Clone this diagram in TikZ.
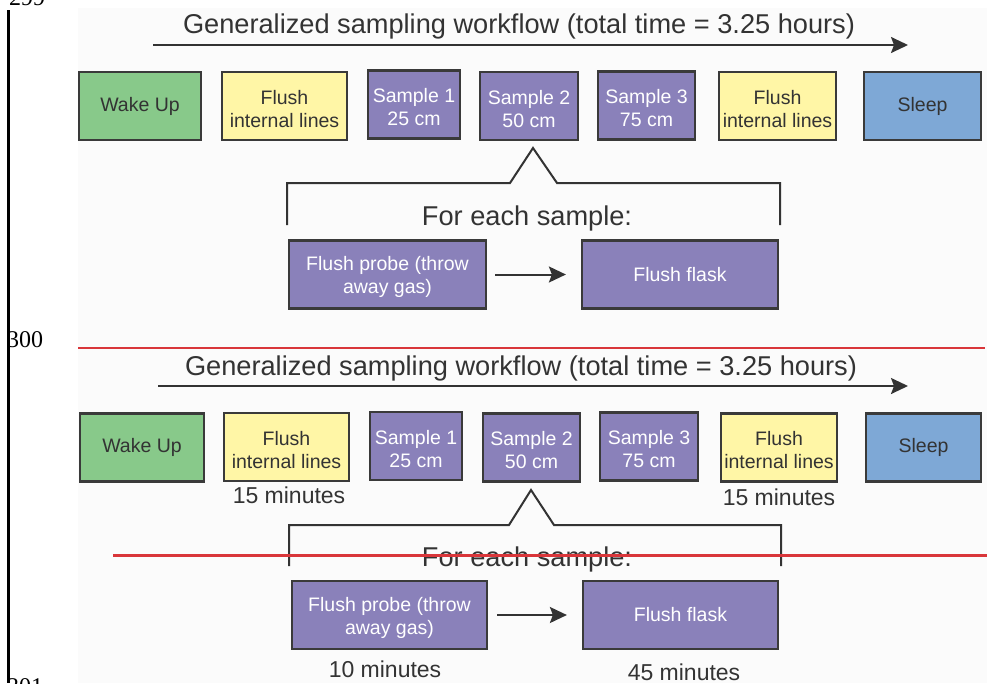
\documentclass[tikz,border=0pt]{standalone}
\usepackage{fontspec}
\setmainfont{Liberation Sans}
\newfontfamily\numfont{Liberation Serif}
\usetikzlibrary{arrows.meta}
\definecolor{cgreen}{HTML}{88C98A}
\definecolor{cyellow}{HTML}{FFF6A6}
\definecolor{cpurple}{HTML}{8A81BA}
\definecolor{cblue}{HTML}{7EA8D6}
\definecolor{boxline}{HTML}{3A3A3A}
\definecolor{txt}{HTML}{333333}
\definecolor{bgc}{HTML}{FBFBFB}
\definecolor{redc}{HTML}{D9363A}
\newcommand\firstlinestrut{\rule{0pt}{20pt}}
\tikzset{
  box/.style={draw=boxline, line width=2.2pt, inner sep=0pt, align=center,
    font=\fontsize{19.5pt}{23pt}\selectfont, text=txt, minimum height=68pt},
  gbox/.style={box, fill=cgreen},
  ybox/.style={box, fill=cyellow},
  pbox/.style={box, fill=cpurple, text=white},
  bbox/.style={box, fill=cblue},
  titletxt/.style={font=\fontsize{27.2pt}{30pt}\selectfont, text=txt, inner sep=0pt, anchor=base},
  mintxt/.style={font=\fontsize{23pt}{26pt}\selectfont, text=txt, inner sep=0pt, anchor=base},
  numtxt/.style={font=\numfont\fontsize{24pt}{26pt}\selectfont, text=black, inner sep=0pt, anchor=base west},
  arr/.style={draw=txt, line width=2pt, -{Stealth[length=17pt, width=16pt, inset=3pt]}},
  brk/.style={draw=txt, line width=2pt, line join=miter},
  redthin/.style={draw=redc, line width=1.2pt},
  redthick/.style={draw=redc, line width=3pt}
}
\begin{document}
\begin{tikzpicture}[x=1pt,y=-1pt]
\useasboundingbox (0,0) rectangle (987,683);
\fill[bgc] (78,8) rectangle (987,683);

% line numbers and margin rule
\node[numtxt] (n299) at (9,5) {299};
\node[numtxt] (n300) at (7,347) {300};
\node[numtxt] (n301) at (7,694) {301};
\draw[line width=2.5pt] (8.7,10) -- (8.7,683);

% ---------- top panel ----------
\node[titletxt] (t1) at (519,33) {Generalized sampling workflow (total time = 3.25 hours)};
\coordinate (a1s) at (153,45);
\coordinate (a1e) at (908,45);
\draw[arr] (a1s) -- (a1e);

\node[gbox, minimum width=122pt] (wake1) at (140,106) {Wake Up};
\node[ybox, minimum width=125pt] (fl1) at (284.5,106) {\firstlinestrut Flush\\internal lines};
\node[pbox, minimum width=92pt] (s1) at (414,104.5) {\firstlinestrut Sample 1\\25 cm};
\node[pbox, minimum width=98pt] (s2) at (529,106) {\firstlinestrut Sample 2\\50 cm};
\node[pbox, minimum width=97pt] (s3) at (646.5,105.5) {\firstlinestrut Sample 3\\75 cm};
\node[ybox, minimum width=117pt] (fl2) at (777.5,106) {\firstlinestrut Flush\\internal lines};
\node[bbox, minimum width=117pt] (sl1) at (922.5,106) {Sleep};

\draw[brk] (287,225) -- (287,183) -- (510,183) -- (533,148) -- (557,183) -- (780,183) -- (780,225);
\node[titletxt] (fe1) at (527,225) {For each sample:};

\node[pbox, minimum width=197pt] (fp1) at (387.5,274.5) {\firstlinestrut Flush probe (throw\\away gas)};
\node[pbox, minimum width=196pt] (ff1) at (680,274.5) {Flush flask};
\draw[arr, shorten <=8pt, shorten >=15pt] (fp1) -- (ff1);

% ---------- bottom panel ----------
\node[titletxt] (t2) at (521,375) {Generalized sampling workflow (total time = 3.25 hours)};
\coordinate (a2s) at (158,386);
\coordinate (a2e) at (908,386);
\draw[arr] (a2s) -- (a2e);

\node[gbox, minimum width=124pt] (wake2) at (142,447.5) {Wake Up};
\node[ybox, minimum width=125pt] (fl3) at (286.5,447) {\firstlinestrut Flush\\internal lines};
\node[pbox, minimum width=92pt] (s4) at (416,446) {\firstlinestrut Sample 1\\25 cm};
\node[pbox, minimum width=97pt] (s5) at (531.5,447.5) {\firstlinestrut Sample 2\\50 cm};
\node[pbox, minimum width=98pt] (s6) at (649,446.5) {\firstlinestrut Sample 3\\75 cm};
\node[ybox, minimum width=116pt] (fl4) at (779,447.5) {\firstlinestrut Flush\\internal lines};
\node[bbox, minimum width=115pt] (sl2) at (923.5,447.5) {Sleep};

\node[mintxt] (m1) at (289,503) {15 minutes};
\node[mintxt] (m2) at (779,505) {15 minutes};

\draw[brk] (289,566) -- (289,525) -- (509,525) -- (531,490) -- (554,525) -- (781,525) -- (781,566);
\node[titletxt] (fe2) at (527,566) {For each sample:};

\node[pbox, minimum width=195pt] (fp2) at (389.5,615) {\firstlinestrut Flush probe (throw\\away gas)};
\node[pbox, minimum width=195pt] (ff2) at (680.5,615) {Flush flask};
\draw[arr, shorten <=9pt, shorten >=15pt] (fp2) -- (ff2);

\node[mintxt] (m3) at (385,677) {10 minutes};
\node[mintxt] (m4) at (684,680) {45 minutes};

% red rules
\draw[redthin] (78,348) -- (985,348);
\draw[redthick] (113,555) -- (987,555);
\end{tikzpicture}
\end{document}
